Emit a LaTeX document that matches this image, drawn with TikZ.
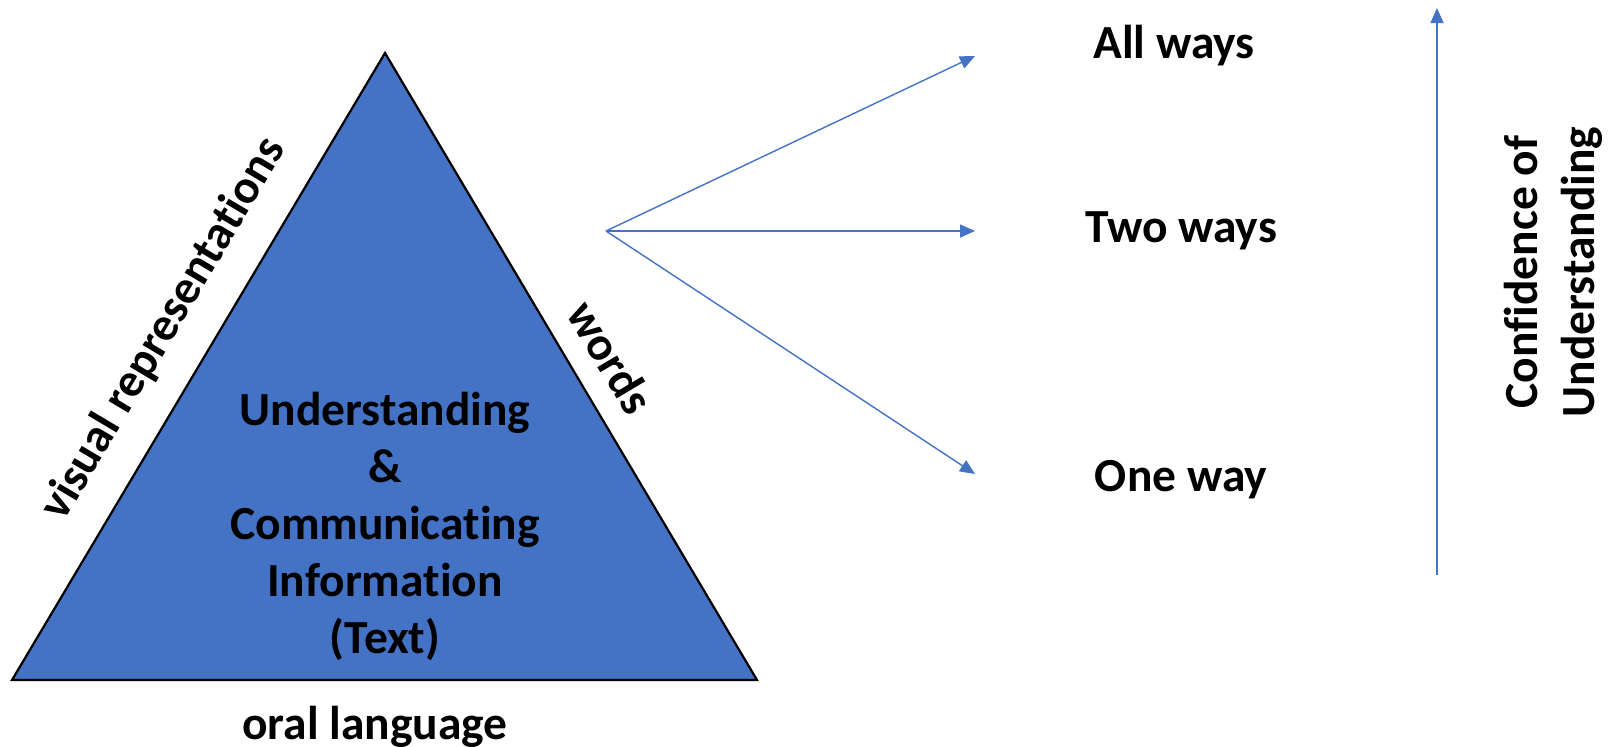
\documentclass[tikz,border=0pt]{standalone}
\usepackage{fontspec}
\setmainfont{Carlito}[Ligatures=NoCommon]
\usetikzlibrary{arrows.meta,positioning}
\definecolor{pptblue}{HTML}{4472C4}
\begin{document}
\begin{tikzpicture}[x=1pt,y=-1pt,inner sep=0pt,outer sep=0pt,
lbl/.style={font=\fontsize{47.5}{57}\selectfont\bfseries,align=center},
blueline/.style={draw=pptblue,line width=1.4pt,-{Triangle[length=15pt,width=13pt]}}]
\useasboundingbox (0,0) rectangle (1610,747);
% triangle
\coordinate (apex) at (385,53);
\coordinate (bl) at (12,680);
\coordinate (br) at (757,680);
\draw[fill=pptblue,line width=2.2pt,line join=miter] (apex) -- (bl) -- (br) -- cycle;
\node[lbl] (core) at (385,526) {Understanding\\\&\\Communicating\\Information\\(Text)};
\node[lbl] (oral) at (375,727) {oral language};
\node[lbl,rotate=59.25] (visual) at (164,329) {visual representations};
\node[lbl,rotate=-59.25] (words) at (611,357) {words};
% fan of arrows
\coordinate (fork) at (606,231);
\coordinate (tipall) at (975,56);
\coordinate (tiptwo) at (975,231);
\coordinate (tipone) at (975,474);
\draw[blueline] (fork) -- (tipall);
\draw[blueline] (fork) -- (tiptwo);
\draw[blueline] (fork) -- (tipone);
\node[lbl] (all) at (1174,46) {All ways};
\node[lbl] (two) at (1181,231) {Two ways};
\node[lbl] (one) at (1181,480) {One way};
% confidence axis
\coordinate (low) at (1437,575);
\coordinate (high) at (1437,8);
\draw[blueline] (low) -- (high);
\node[lbl,rotate=90] (conf) at (1553,272) {Confidence of\\Understanding};
\end{tikzpicture}
\end{document}
